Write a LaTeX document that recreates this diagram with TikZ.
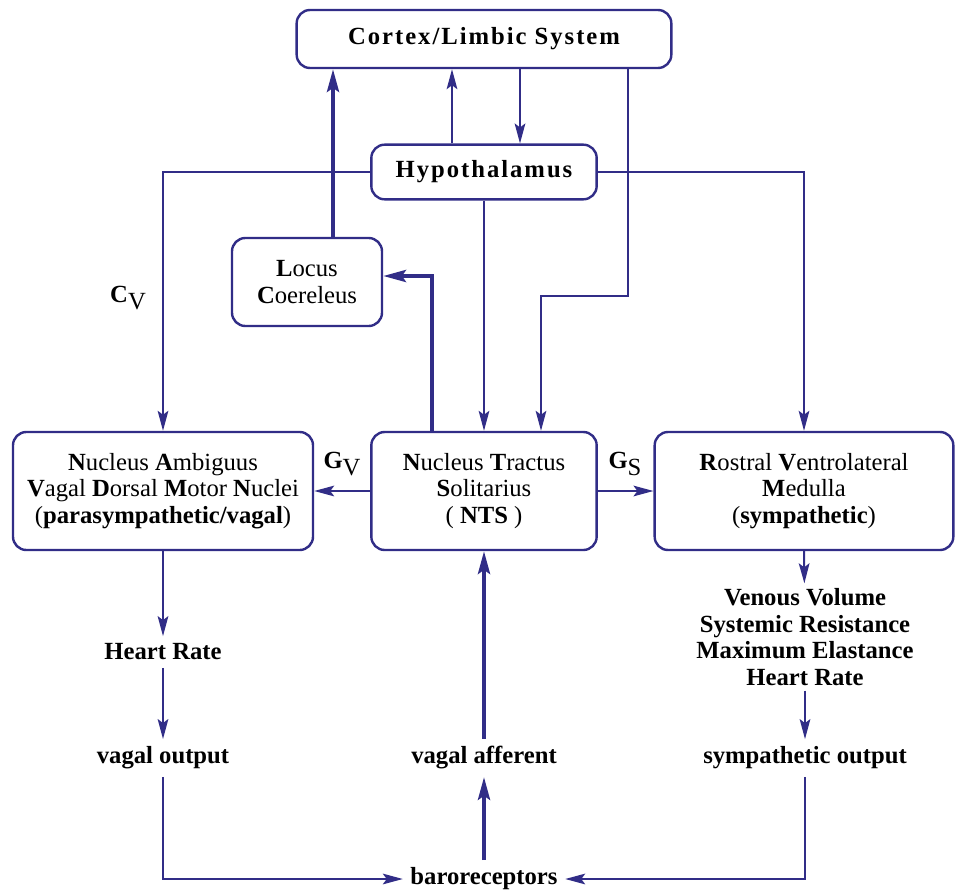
\documentclass[tikz,border=0pt]{standalone}
\usepackage{fontspec}
\setmainfont{Liberation Serif}
\usetikzlibrary{arrows.meta}

\definecolor{navy}{RGB}{49,45,135}

\tikzset{every picture/.style={line width=1.5pt}}
\tikzset{
  box/.style={draw=navy, line width=1.8pt, rounded corners=10pt, fill=white, align=center, inner sep=0.75pt},
  lbl/.style={align=center, inner sep=5pt, font=\bfseries},
  arr/.style={draw=navy, line width=1.5pt, -{Stealth[length=15pt,width=8pt,inset=3pt]}},
  thickarr/.style={arr, line width=3pt, -{Stealth[length=17pt,width=9pt,inset=3pt]}}
}

\begin{document}
\begin{tikzpicture}[x=0.75pt,y=0.75pt,yscale=-1,xscale=1]
\fontsize{18.5}{20}\selectfont
\useasboundingbox (0,0) rectangle (956,892);

%Shape: Rounded boxes
\node [box, minimum width=281pt, minimum height=43.5pt] (cortex) at (484,39) {\bfseries\addfontfeatures{LetterSpace=8}Cortex/Limbic System};
\node [box, minimum width=169pt, minimum height=41pt] (hyp) at (484,172) {\bfseries\addfontfeatures{LetterSpace=8}Hypothalamus};
\node [box, minimum width=112.5pt, minimum height=66pt] (lc) at (307,282) {\textbf{L}ocus\\\textbf{C}oereleus};
\node [box, minimum width=225pt, minimum height=88.5pt] (na) at (163,491) {\textbf{N}ucleus \textbf{A}mbiguus\\\textbf{V}agal \textbf{D}orsal \textbf{M}otor \textbf{N}uclei\\(\textbf{parasympathetic/vagal})};
\node [box, minimum width=169pt, minimum height=88.5pt] (nts) at (484,491) {\textbf{N}ucleus \textbf{T}ractus\\\textbf{S}olitarius\\( \textbf{NTS} )};
\node [box, minimum width=224pt, minimum height=88.5pt] (rvlm) at (804,491) {\textbf{R}ostral \textbf{V}entrolateral\\\textbf{M}edulla\\(\textbf{sympathetic})};

% Text Node
\node [lbl] (hr) at (163,652) {Heart Rate};
\node [lbl] (vout) at (163,758) {vagal output};
\node [lbl] (vaff) at (484,758) {vagal afferent};
\node [lbl, inner sep=3pt] (list) at (805,637) {Venous Volume\\Systemic Resistance\\Maximum Elastance\\Heart Rate};
\node [lbl] (sout) at (805,758) {sympathetic output};
\node [lbl] (baro) at (484,879) {baroreceptors};

% Gain labels
\node [inner sep=0pt] (cv) at (128,298) {\textbf{C}\raisebox{-0.3em}{V}};
\node [inner sep=0pt] (gv) at (342,464) {\textbf{G}\raisebox{-0.3em}{V}};
\node [inner sep=0pt] (gs) at (625,464) {\textbf{G}\raisebox{-0.3em}{S}};

%Straight Lines
\coordinate (lctop) at ([xshift=19.5pt]lc.north);
\coordinate (hup) at ([xshift=-24pt]hyp.north);
\coordinate (cdn) at ([xshift=27pt]cortex.south);
\coordinate (cright) at ([xshift=108pt]cortex.south);
\coordinate (bend) at (541,296);
\coordinate (ntsup) at ([xshift=-39pt]nts.north);
\coordinate (lcin) at ([yshift=-4.5pt]lc.east);

\draw [thickarr] (lctop) -- (lctop |- cortex.south);
\draw [arr] (hup) -- (hup |- cortex.south);
\draw [arr] (cdn) -- (cdn |- hyp.north);
\draw [arr] (cright) |- (bend) -- (bend |- nts.north);
\draw [arr] (hyp.west) -| (na.north);
\draw [arr] (hyp.east) -| (rvlm.north);
\draw [arr] (hyp.south) -- (nts.north);
\draw [thickarr] (ntsup) |- (lcin);
\draw [arr] (nts.west) -- (na.east);
\draw [arr] (nts.east) -- (rvlm.west);

\draw [arr] (na.south) -- (hr);
\draw [arr] (hr) -- (vout);
\draw [arr] (vout) |- (baro);
\draw [thickarr] (baro) -- (vaff);
\draw [thickarr] (vaff) -- (nts.south);
\draw [arr] (rvlm.south) -- (list);
\draw [arr] (list) -- (sout);
\draw [arr] (sout) |- (baro);

\end{tikzpicture}
\end{document}
